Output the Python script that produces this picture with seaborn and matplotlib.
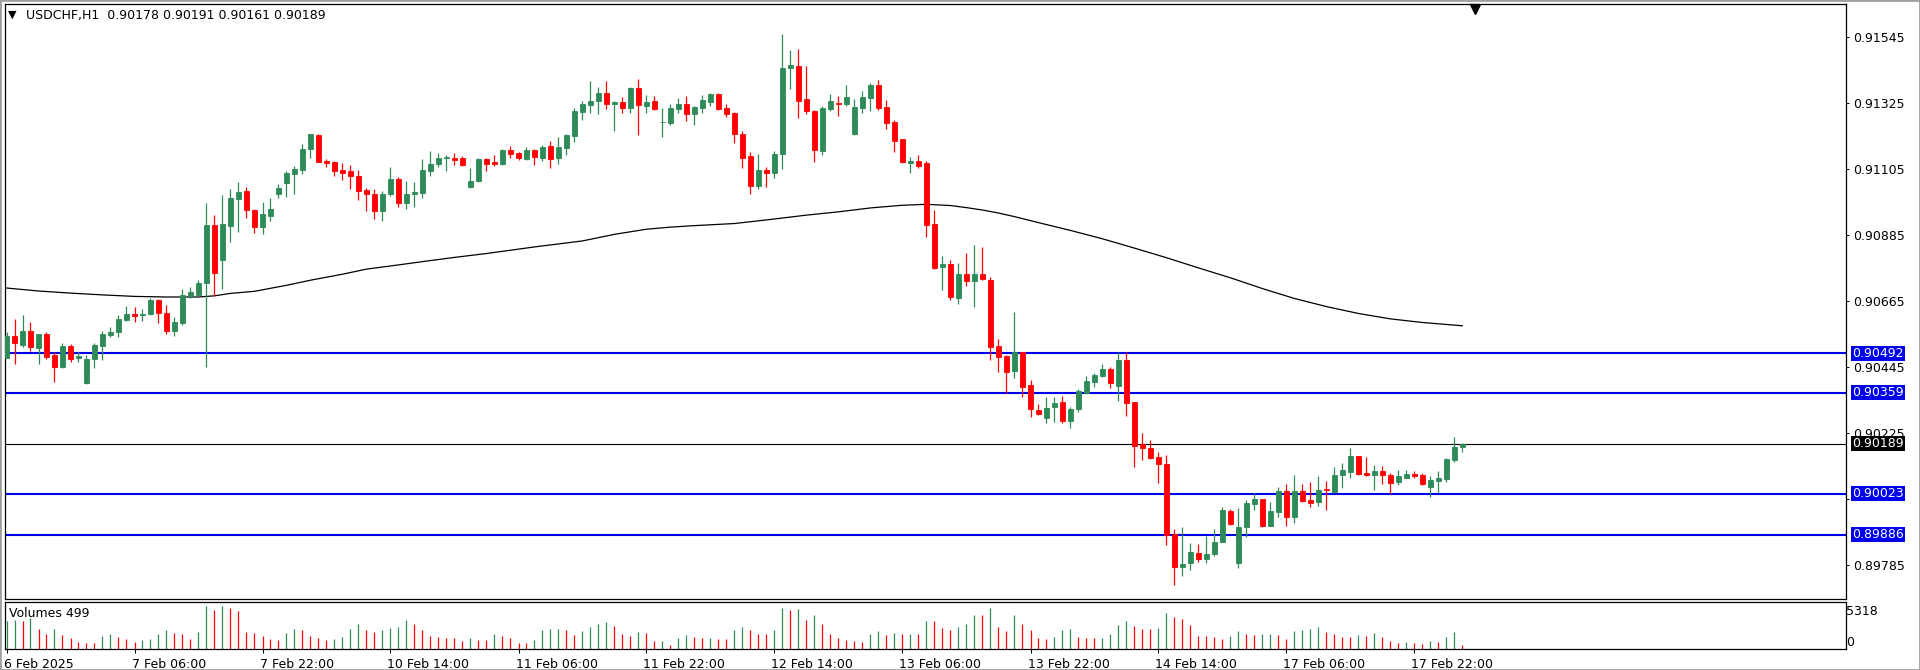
import numpy as np
import pandas as pd
import matplotlib
matplotlib.use("Agg")
import matplotlib.pyplot as plt
import matplotlib.transforms as mtransforms
from matplotlib.patches import Rectangle
import seaborn as sns

# ---------------- data ----------------
symbol_title = "USDCHF,H1  0.90178 0.90191 0.90161 0.90189"

opens = [0.90476, 0.90549, 0.90518, 0.90565, 0.90509, 0.90555, 0.90485, 0.90446, 0.90515, 0.90477,
         0.90391, 0.90471, 0.90516, 0.90552, 0.90561, 0.90602, 0.90621, 0.90618, 0.90623, 0.90668,
         0.90624, 0.90566, 0.90591, 0.90683, 0.90687, 0.90726, 0.90918, 0.90804, 0.90916, 0.91007,
         0.91033, 0.90969, 0.90913, 0.90949, 0.91022, 0.91060, 0.91089, 0.91102, 0.91172, 0.91219,
         0.91133, 0.91129, 0.91102, 0.91099, 0.91082, 0.91035, 0.91021, 0.90966, 0.91024, 0.91071,
         0.90993, 0.91021, 0.91026, 0.91100, 0.91124, 0.91144, 0.91141, 0.91141, 0.91046, 0.91065,
         0.91138, 0.91128, 0.91121, 0.91169, 0.91158, 0.91139, 0.91169, 0.91141, 0.91182, 0.91141,
         0.91176, 0.91216, 0.91296, 0.91319, 0.91332, 0.91358, 0.91322, 0.91330, 0.91310, 0.91376,
         0.91316, 0.91332, 0.91261, 0.91258, 0.91305, 0.91322, 0.91289, 0.91310, 0.91330, 0.91355,
         0.91310, 0.91291, 0.91224, 0.91148, 0.91049, 0.91102, 0.91091, 0.91157, 0.91444, 0.91448,
         0.91338, 0.91299, 0.91166, 0.91307, 0.91327, 0.91322, 0.91222, 0.91309, 0.91344, 0.91385,
         0.91313, 0.91261, 0.91205, 0.91126, 0.91133, 0.91126, 0.90922, 0.90780, 0.90788, 0.90676,
         0.90757, 0.90733, 0.90757, 0.90735, 0.90515, 0.90483, 0.90433, 0.90494, 0.90385, 0.90302,
         0.90276, 0.90311, 0.90328, 0.90266, 0.90304, 0.90360, 0.90396, 0.90416, 0.90439, 0.90383,
         0.90469, 0.90328, 0.90188, 0.90177, 0.90146, 0.90122, 0.89888, 0.89780, 0.89791, 0.89824,
         0.89804, 0.89821, 0.89863, 0.89966, 0.89791, 0.89913, 0.89988, 0.90005, 0.89916, 0.89963,
         0.90032, 0.89946, 0.90032, 0.90002, 0.89994, 0.90038, 0.90029, 0.90085, 0.90096, 0.90148,
         0.90093, 0.90085, 0.90098, 0.90085, 0.90061, 0.90076, 0.90090, 0.90087, 0.90046, 0.90066,
         0.90072, 0.90135, 0.90178]

highs = [0.90563, 0.90607, 0.90618, 0.90596, 0.90557, 0.90563, 0.90496, 0.90524, 0.90521, 0.90494,
         0.90485, 0.90524, 0.90566, 0.90579, 0.90618, 0.90650, 0.90644, 0.90638, 0.90676, 0.90674,
         0.90652, 0.90613, 0.90707, 0.90713, 0.90735, 0.90991, 0.90952, 0.91018, 0.91040, 0.91063,
         0.91046, 0.90974, 0.90996, 0.91008, 0.91055, 0.91099, 0.91115, 0.91189, 0.91224, 0.91221,
         0.91138, 0.91131, 0.91126, 0.91119, 0.91104, 0.91041, 0.91038, 0.91033, 0.91111, 0.91078,
         0.91065, 0.91061, 0.91139, 0.91165, 0.91160, 0.91152, 0.91160, 0.91149, 0.91108, 0.91141,
         0.91144, 0.91152, 0.91174, 0.91182, 0.91161, 0.91178, 0.91174, 0.91185, 0.91199, 0.91211,
         0.91224, 0.91308, 0.91332, 0.91399, 0.91378, 0.91399, 0.91332, 0.91346, 0.91380, 0.91405,
         0.91354, 0.91349, 0.91310, 0.91321, 0.91344, 0.91349, 0.91316, 0.91354, 0.91358, 0.91358,
         0.91321, 0.91296, 0.91232, 0.91163, 0.91155, 0.91111, 0.91165, 0.91557, 0.91504, 0.91505,
         0.91449, 0.91302, 0.91316, 0.91357, 0.91348, 0.91385, 0.91338, 0.91365, 0.91393, 0.91402,
         0.91335, 0.91268, 0.91207, 0.91146, 0.91152, 0.91132, 0.90968, 0.90816, 0.90802, 0.90794,
         0.90827, 0.90852, 0.90846, 0.90745, 0.90538, 0.90485, 0.90628, 0.90496, 0.90402, 0.90321,
         0.90346, 0.90344, 0.90350, 0.90311, 0.90371, 0.90415, 0.90426, 0.90455, 0.90446, 0.90496,
         0.90494, 0.90330, 0.90224, 0.90202, 0.90161, 0.90152, 0.89904, 0.89911, 0.89858, 0.89854,
         0.89883, 0.89905, 0.89980, 0.89971, 0.89977, 0.90002, 0.90027, 0.90007, 0.89996, 0.90046,
         0.90057, 0.90087, 0.90057, 0.90061, 0.90082, 0.90065, 0.90113, 0.90126, 0.90177, 0.90150,
         0.90144, 0.90120, 0.90115, 0.90091, 0.90102, 0.90102, 0.90098, 0.90091, 0.90082, 0.90098,
         0.90143, 0.90213, 0.90191]

lows = [0.90474, 0.90457, 0.90513, 0.90498, 0.90457, 0.90472, 0.90394, 0.90441, 0.90461, 0.90463,
        0.90388, 0.90441, 0.90468, 0.90546, 0.90546, 0.90598, 0.90596, 0.90599, 0.90618, 0.90591,
        0.90557, 0.90549, 0.90587, 0.90676, 0.90685, 0.90446, 0.90682, 0.90707, 0.90863, 0.90896,
        0.90943, 0.90891, 0.90889, 0.90933, 0.91010, 0.91013, 0.91024, 0.91089, 0.91141, 0.91128,
        0.91111, 0.91083, 0.91069, 0.91039, 0.91004, 0.90966, 0.90938, 0.90933, 0.91016, 0.90980,
        0.90972, 0.90980, 0.91010, 0.91083, 0.91111, 0.91100, 0.91119, 0.91115, 0.91044, 0.91063,
        0.91100, 0.91115, 0.91119, 0.91141, 0.91135, 0.91135, 0.91119, 0.91133, 0.91110, 0.91122,
        0.91152, 0.91196, 0.91269, 0.91291, 0.91289, 0.91305, 0.91232, 0.91293, 0.91294, 0.91219,
        0.91291, 0.91304, 0.91213, 0.91254, 0.91294, 0.91266, 0.91252, 0.91294, 0.91316, 0.91302,
        0.91280, 0.91194, 0.91110, 0.91024, 0.91038, 0.91046, 0.91077, 0.91107, 0.91371, 0.91276,
        0.91290, 0.91129, 0.91152, 0.91299, 0.91283, 0.91315, 0.91218, 0.91293, 0.91299, 0.91304,
        0.91240, 0.91163, 0.91127, 0.91093, 0.91110, 0.90879, 0.90774, 0.90702, 0.90670, 0.90654,
        0.90716, 0.90646, 0.90735, 0.90469, 0.90430, 0.90358, 0.90410, 0.90344, 0.90278, 0.90285,
        0.90258, 0.90261, 0.90260, 0.90241, 0.90294, 0.90355, 0.90380, 0.90413, 0.90374, 0.90333,
        0.90283, 0.90113, 0.90135, 0.90138, 0.90058, 0.89852, 0.89720, 0.89749, 0.89769, 0.89796,
        0.89791, 0.89815, 0.89861, 0.89918, 0.89774, 0.89880, 0.89968, 0.89913, 0.89915, 0.89946,
        0.89916, 0.89924, 0.89996, 0.89979, 0.89982, 0.89968, 0.90024, 0.90043, 0.90076, 0.90085,
        0.90083, 0.90037, 0.90054, 0.90021, 0.90052, 0.90074, 0.90076, 0.90052, 0.90013, 0.90024,
        0.90063, 0.90129, 0.90161]

closes = [0.90549, 0.90524, 0.90565, 0.90513, 0.90554, 0.90479, 0.90446, 0.90515, 0.90471, 0.90482,
          0.90472, 0.90518, 0.90557, 0.90563, 0.90607, 0.90621, 0.90615, 0.90621, 0.90668, 0.90624,
          0.90566, 0.90596, 0.90685, 0.90696, 0.90727, 0.90918, 0.90759, 0.90922, 0.91009, 0.91030,
          0.90968, 0.90911, 0.90955, 0.90972, 0.91041, 0.91093, 0.91105, 0.91172, 0.91221, 0.91130,
          0.91126, 0.91100, 0.91093, 0.91083, 0.91033, 0.91021, 0.90966, 0.91024, 0.91071, 0.90993,
          0.91021, 0.91030, 0.91102, 0.91124, 0.91141, 0.91146, 0.91135, 0.91119, 0.91065, 0.91138,
          0.91122, 0.91124, 0.91169, 0.91155, 0.91143, 0.91169, 0.91146, 0.91178, 0.91139, 0.91178,
          0.91219, 0.91299, 0.91324, 0.91332, 0.91358, 0.91322, 0.91328, 0.91310, 0.91376, 0.91319,
          0.91330, 0.91305, 0.91264, 0.91310, 0.91322, 0.91289, 0.91311, 0.91335, 0.91355, 0.91305,
          0.91289, 0.91224, 0.91143, 0.91049, 0.91102, 0.91091, 0.91157, 0.91443, 0.91452, 0.91333,
          0.91299, 0.91168, 0.91309, 0.91332, 0.91324, 0.91345, 0.91312, 0.91345, 0.91385, 0.91309,
          0.91259, 0.91199, 0.91129, 0.91132, 0.91115, 0.90918, 0.90777, 0.90788, 0.90680, 0.90757,
          0.90733, 0.90757, 0.90740, 0.90513, 0.90480, 0.90430, 0.90494, 0.90380, 0.90304, 0.90288,
          0.90308, 0.90324, 0.90265, 0.90305, 0.90366, 0.90399, 0.90419, 0.90439, 0.90393, 0.90469,
          0.90326, 0.90183, 0.90177, 0.90143, 0.90121, 0.89885, 0.89778, 0.89789, 0.89828, 0.89804,
          0.89821, 0.89861, 0.89969, 0.89922, 0.89911, 0.89991, 0.90005, 0.89916, 0.89965, 0.90032,
          0.89946, 0.90032, 0.90000, 0.89993, 0.90037, 0.90035, 0.90085, 0.90102, 0.90148, 0.90090,
          0.90085, 0.90098, 0.90085, 0.90060, 0.90082, 0.90088, 0.90083, 0.90055, 0.90068, 0.90076,
          0.90138, 0.90180, 0.90189]

volumes = [4050, 4180, 4050, 4490, 2860, 2200, 2860, 1980, 1630, 950,
           880, 860, 1890, 2200, 1760, 1410, 970, 1320, 1410, 2200,
           2640, 2330, 2070, 1410, 2420, 6070, 5630, 6160, 5850, 5370,
           2380, 2330, 1890, 1410, 1320, 2330, 2820, 2640, 1850, 1540,
           1320, 1360, 1760, 2860, 3520, 2730, 2420, 2640, 2950, 3170,
           4180, 3520, 2640, 1850, 1670, 1540, 1500, 1190, 1540, 1320,
           1280, 2200, 1850, 1540, 880, 840, 1320, 2640, 2860, 2900,
           2640, 1980, 2510, 3080, 3520, 3870, 3300, 2200, 1890, 2420,
           2330, 1100, 1150, 530, 1540, 1980, 1760, 1540, 1580, 1410,
           1380, 2770, 3080, 2730, 2200, 2150, 2640, 5810, 5500, 5720,
           4180, 4840, 3520, 2200, 1540, 1320, 1100, 970, 2200, 2550,
           1980, 2290, 2110, 2200, 2100, 4050, 3960, 2990, 2730, 3170,
           3520, 4840, 4800, 5850, 3080, 2510, 4840, 3520, 2730, 1540,
           1450, 1760, 2640, 2860, 1760, 1630, 1540, 1580, 2070, 3390,
           4050, 3210, 2860, 2820, 2990, 5190, 4620, 4310, 3390, 1850,
           1800, 1670, 1450, 1850, 2510, 2070, 1980, 2070, 2110, 1980,
           1450, 2550, 2640, 2860, 3080, 2420, 2200, 1760, 1720, 1980,
           1890, 2290, 1670, 1100, 790, 1010, 800, 760, 1190, 1010,
           1760, 2420, 499]

# moving average, read at selected bars
ma_bar = [0, 4, 8, 12, 16, 20, 24, 26, 28, 31, 35, 38, 42, 45, 49, 52, 56, 60, 63, 66,
          69, 72, 76, 80, 83, 86, 91, 95, 100, 104, 108, 112, 115, 118, 120, 122, 124, 126,
          129, 133, 137, 141, 145, 149, 153, 157, 161, 165, 169, 173, 177, 182]
ma_val = [0.90709, 0.90699, 0.90692, 0.90686, 0.90681, 0.90679, 0.90679, 0.90683, 0.90691, 0.90698,
          0.90718, 0.90735, 0.90755, 0.90772, 0.90786, 0.90797, 0.90811, 0.90824, 0.90835, 0.90846,
          0.90856, 0.90866, 0.90888, 0.90905, 0.90912, 0.90917, 0.90924, 0.90936, 0.90952, 0.90963,
          0.90976, 0.90985, 0.90988, 0.90984, 0.90977, 0.90969, 0.90959, 0.90947,
          0.90927, 0.90901, 0.90873, 0.90842, 0.90810, 0.90776, 0.90743, 0.90707, 0.90674, 0.90647,
          0.90624, 0.90606, 0.90594, 0.90583]

blue_levels = [0.90492, 0.90359, 0.90023, 0.89886]
current_price = 0.90189

price_ticks = [0.89785, 0.90005, 0.90225, 0.90445, 0.90665, 0.90885, 0.91105, 0.91325, 0.91545]
hidden_ticks = [0.90005]
time_tick_bars = [0, 16, 32, 48, 64, 80, 96, 112, 128, 144, 160, 176]
time_tick_labels = ["6 Feb 2025", "7 Feb 06:00", "7 Feb 22:00", "10 Feb 14:00", "11 Feb 06:00",
                    "11 Feb 22:00", "12 Feb 14:00", "13 Feb 06:00", "13 Feb 22:00", "14 Feb 14:00",
                    "17 Feb 06:00", "17 Feb 22:00"]
volume_label = "Volumes 499"
volume_max_label = 5318

# ---------------- figure ----------------
sns.set_theme(style="white")
plt.rcParams['font.family'] = ['DejaVu Sans']

W, H = 1920, 670
fig = plt.figure(figsize=(W / 100, H / 100), dpi=100)
fig.patch.set_facecolor("white")


def px_rect(l, t, r, b):
    return [l / W, 1 - b / H, (r - l) / W, (b - t) / H]


ax = fig.add_axes(px_rect(5, 4, 1846, 599))
axv = fig.add_axes(px_rect(5, 602, 1846, 649), sharex=ax)

df = pd.DataFrame({"o": opens, "h": highs, "l": lows, "c": closes, "v": volumes})
df["i"] = np.arange(len(df))
GREEN = "#2e8b57"
RED = "#ff0000"
df["col"] = np.where(df["c"] >= df["o"], GREEN, RED)

# wicks
ax.vlines(df["i"], df["l"], df["h"], colors=df["col"], linewidth=0.9, zorder=3)
# bodies
body_bottom = np.minimum(df["o"], df["c"])
body_h = np.abs(df["c"] - df["o"])
ax.bar(df["i"], body_h, bottom=body_bottom, width=0.62, color=df["col"],
       edgecolor=df["col"], linewidth=0.6, zorder=4)

# moving average
sns.lineplot(x=ma_bar, y=ma_val, ax=ax, color="black", linewidth=0.9, zorder=2)

# horizontal levels
for lv in blue_levels:
    ax.axhline(lv, color="#0000ee", linewidth=1.5, zorder=2)
ax.axhline(current_price, color="black", linewidth=0.8, zorder=2)

x_left = (5 - 6.5) / 8
x_right = (1846 - 6.5) / 8
ax.set_xlim(x_left, x_right)
ax.set_ylim(0.89672, 0.91656)

ax.yaxis.tick_right()
ax.set_yticks(price_ticks)
ax.set_yticklabels(["" if t in hidden_ticks else f"{t:.5f}" for t in price_ticks])
ax.tick_params(axis="y", which="both", direction="out", length=2.5, width=0.7,
               pad=2.5, labelsize=9, colors="black", right=True, left=False)
ax.tick_params(axis="x", bottom=False, labelbottom=False)
for sp in ax.spines.values():
    sp.set_visible(True)
    sp.set_color("black")
    sp.set_linewidth(0.9)
ax.set_xlabel("")
ax.set_ylabel("")

# boxed level labels
for lv in blue_levels:
    ax.annotate(f"{lv:.5f}", xy=(1, lv), xycoords=ax.get_yaxis_transform(),
                xytext=(6, 0), textcoords="offset pixels", ha="left", va="center",
                color="white", fontsize=9, annotation_clip=False, zorder=10,
                bbox=dict(boxstyle="square,pad=0.08", fc="#0000ee", ec="none"))
ax.annotate(f"{current_price:.5f}", xy=(1, current_price), xycoords=ax.get_yaxis_transform(),
            xytext=(6, 0), textcoords="offset pixels", ha="left", va="center",
            color="white", fontsize=9, annotation_clip=False, zorder=10,
            bbox=dict(boxstyle="square,pad=0.08", fc="black", ec="none"))

# chart-shift triangle at top
ax.plot([183.6], [0.91638], marker="v", markersize=7, color="black", clip_on=False, zorder=10)

# volumes
vcols = [GREEN] + [GREEN if volumes[k] > volumes[k - 1] else RED for k in range(1, len(volumes))]
axv.vlines(df["i"], 0, df["v"], colors=vcols, linewidth=0.9)
axv.set_ylim(0, 6700)
axv.set_yticks([])
for sp in axv.spines.values():
    sp.set_visible(True)
    sp.set_color("black")
    sp.set_linewidth(0.9)
axv.text(1, volume_max_label, f"{volume_max_label}", transform=axv.get_yaxis_transform(),
         ha="left", va="center", fontsize=9, color="black")
axv.text(1, 0, "0", transform=axv.get_yaxis_transform(),
         ha="left", va="bottom", fontsize=9, color="black")
axv.set_xticks(time_tick_bars)
axv.set_xticklabels(time_tick_labels)
axv.tick_params(axis="x", direction="out", length=3, width=0.7, pad=3.5,
                labelsize=9, colors="black", bottom=True)
offset = mtransforms.ScaledTranslation(-3 / 100, 0, fig.dpi_scale_trans)
for lab in axv.get_xticklabels():
    lab.set_horizontalalignment("left")
    lab.set_transform(lab.get_transform() + offset)
axv.set_xlim(x_left, x_right)

# texts
fig.text(12.5 / W, 1 - 14.5 / H, "▼", ha="center", va="center", fontsize=8, color="black")
fig.text(26 / W, 1 - 15.5 / H, symbol_title, ha="left", va="center", fontsize=9, color="black")
fig.text(9 / W, 1 - 613.5 / H, volume_label, ha="left", va="center", fontsize=9, color="black")

# outer frame
fig.add_artist(Rectangle((0, 0), 1, 1, transform=fig.transFigure, fill=False,
                         edgecolor="#a0a0a0", linewidth=2))

assert len(opens) == len(highs) == len(lows) == len(closes) == len(volumes) == 183

fig.savefig("out.png", dpi=100, facecolor="white")
